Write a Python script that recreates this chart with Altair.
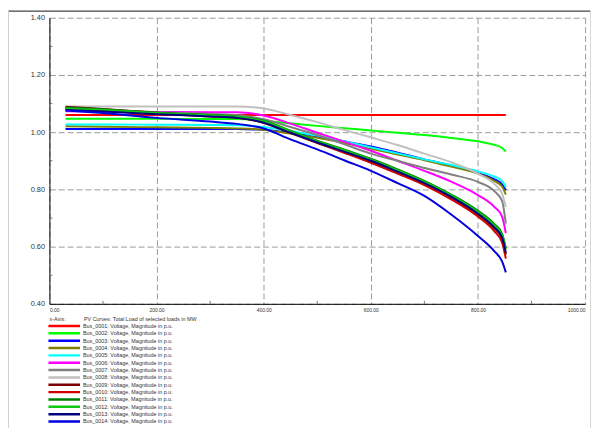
import altair as alt
import pandas as pd

loads = [30, 100, 200, 300, 350, 400, 450, 500, 550, 600, 650, 700, 750, 800, 830, 845, 852]

bus_names = [f"Bus_{i:04d}: Voltage, Magnitude in p.u." for i in range(1, 15)]
bus_colors = ["#ff0000", "#00ff00", "#0000ff", "#808000", "#00ffff", "#ff00ff", "#808080",
              "#c0c0c0", "#800000", "#d40000", "#008000", "#10c810", "#000080", "#0000e0"]

v01 = [1.060] * 17
v02 = [1.047, 1.047, 1.047, 1.046, 1.046, 1.040, 1.031, 1.022, 1.014, 1.006, 0.998, 0.990, 0.980, 0.968, 0.956, 0.945, 0.932]
v03 = [1.011, 1.011, 1.011, 1.011, 1.011, 1.008, 0.998, 0.985, 0.968, 0.950, 0.928, 0.905, 0.883, 0.857, 0.836, 0.818, 0.797]
v04 = [1.021, 1.019, 1.017, 1.015, 1.013, 1.008, 0.995, 0.980, 0.962, 0.942, 0.922, 0.902, 0.880, 0.855, 0.830, 0.810, 0.782]
v05 = [1.027, 1.027, 1.026, 1.025, 1.024, 1.018, 1.003, 0.988, 0.968, 0.947, 0.926, 0.905, 0.885, 0.863, 0.845, 0.830, 0.808]
v06 = [1.073, 1.072, 1.071, 1.070, 1.070, 1.058, 1.030, 0.998, 0.967, 0.935, 0.900, 0.865, 0.827, 0.780, 0.740, 0.705, 0.647]
v07 = [1.084, 1.078, 1.070, 1.064, 1.060, 1.045, 1.018, 0.990, 0.958, 0.925, 0.900, 0.875, 0.852, 0.826, 0.795, 0.760, 0.680]
v08 = [1.090, 1.090, 1.090, 1.090, 1.090, 1.083, 1.060, 1.035, 1.008, 0.982, 0.955, 0.925, 0.895, 0.855, 0.820, 0.785, 0.738]
v09 = [1.089, 1.081, 1.068, 1.058, 1.052, 1.035, 1.000, 0.965, 0.932, 0.898, 0.860, 0.820, 0.772, 0.712, 0.665, 0.630, 0.572]
v10 = [1.082, 1.076, 1.065, 1.055, 1.050, 1.032, 0.997, 0.962, 0.928, 0.893, 0.855, 0.815, 0.765, 0.705, 0.655, 0.615, 0.558]
v11 = [1.086, 1.080, 1.068, 1.060, 1.055, 1.040, 1.005, 0.970, 0.940, 0.907, 0.870, 0.830, 0.782, 0.725, 0.680, 0.645, 0.595]
v12 = [1.083, 1.078, 1.067, 1.059, 1.054, 1.038, 1.003, 0.968, 0.937, 0.904, 0.867, 0.827, 0.779, 0.721, 0.676, 0.640, 0.590]
v13 = [1.078, 1.072, 1.063, 1.055, 1.050, 1.033, 0.998, 0.964, 0.932, 0.900, 0.862, 0.822, 0.774, 0.715, 0.668, 0.632, 0.578]
v14 = [1.076, 1.067, 1.050, 1.037, 1.029, 1.013, 0.975, 0.940, 0.902, 0.865, 0.822, 0.777, 0.712, 0.637, 0.585, 0.548, 0.510]

series = [v01, v02, v03, v04, v05, v06, v07, v08, v09, v10, v11, v12, v13, v14]

x_ticks = [0, 200, 400, 600, 800, 1000]
y_ticks = [0.4, 0.6, 0.8, 1.0, 1.2, 1.4]
x_minor = [100, 300, 500, 700, 900]
y_minor = [0.5, 0.7, 0.9, 1.1, 1.3]

header_left = "x-Axis:"
header_right = "PV Curves: Total Load of selected loads in MW"

rows = []
for name, vals in zip(bus_names, series):
    for i, (x, v) in enumerate(zip(loads, vals)):
        rows.append({"load": x, "v": v, "bus": name, "order": i})
df = pd.DataFrame(rows)

leg_df = pd.DataFrame({"idx": list(range(1, 15)), "bus": bus_names})
head_df = pd.DataFrame({"idx": [0], "left": [header_left], "right": [header_right]})

FONT = "Liberation Sans"
TXT = "#333333"

xs = alt.Scale(domain=[0, 1000], nice=False)
ys = alt.Scale(domain=[0.4, 1.4], nice=False)
cs = alt.Scale(domain=bus_names, range=bus_colors)
ls = alt.Scale(type="point", domain=list(range(15)), range=[305, 409.3], padding=0)

lines = alt.Chart(df).mark_line(strokeWidth=2, interpolate="monotone").encode(
    x=alt.X("load:Q", scale=xs,
            axis=alt.Axis(values=x_ticks, format=".2f", labelFontSize=5, labelColor=TXT,
                          ticks=False, grid=True, gridDash=[6, 3], gridColor="#9a9a9a",
                          domainColor="#000000", labelPadding=4, title=None)),
    y=alt.Y("v:Q", scale=ys,
            axis=alt.Axis(values=y_ticks, format=".2f", labelFontSize=7.5, labelColor=TXT,
                          ticks=False, grid=True, gridDash=[6, 3], gridColor="#9a9a9a",
                          domainColor="#000000", labelPadding=5, title=None)),
    color=alt.Color("bus:N", scale=cs, legend=None),
    order="order:Q",
)

xminor_df = pd.DataFrame({"x": x_minor})
yminor_df = pd.DataFrame({"y": y_minor})

xmin = alt.Chart(xminor_df).mark_rule(color="#555555", strokeWidth=0.8).encode(
    x=alt.X("x:Q", scale=xs), y=alt.value(290), y2=alt.value(287))
ymin = alt.Chart(yminor_df).mark_rule(color="#555555", strokeWidth=0.8).encode(
    y=alt.Y("y:Q", scale=ys, axis=None), x=alt.value(0), x2=alt.value(3))

leg_lines = alt.Chart(leg_df).mark_rule(strokeWidth=2.5).encode(
    y=alt.Y("idx:O", scale=ls, axis=None),
    x=alt.value(-1), x2=alt.value(31),
    color=alt.Color("bus:N", scale=cs, legend=None),
)
leg_text = alt.Chart(leg_df).mark_text(align="left", baseline="middle", fontSize=5.5, color=TXT).encode(
    y=alt.Y("idx:O", scale=ls, axis=None),
    x=alt.value(34),
    text="bus:N",
)
head_left = alt.Chart(head_df).mark_text(align="left", baseline="middle", fontSize=5.5, color=TXT).encode(
    y=alt.Y("idx:O", scale=ls, axis=None), x=alt.value(0), text="left:N")
head_right = alt.Chart(head_df).mark_text(align="left", baseline="middle", fontSize=5.5, color=TXT).encode(
    y=alt.Y("idx:O", scale=ls, axis=None), x=alt.value(35), text="right:N")

frame_top = alt.Chart(xminor_df).mark_rule(color="#707070", strokeWidth=1).encode(
    x=alt.value(-42), x2=alt.value(548), y=alt.value(-6.5))
frame_left = alt.Chart(xminor_df).mark_rule(color="#d0d0d0", strokeWidth=1).encode(
    x=alt.value(-41.5), y=alt.value(-7), y2=alt.value(420))
frame_right = alt.Chart(xminor_df).mark_rule(color="#d8d8d8", strokeWidth=1).encode(
    x=alt.value(548.5), y=alt.value(-7), y2=alt.value(420))

chart = alt.layer(lines, xmin, ymin, leg_lines, leg_text, head_left, head_right,
                  frame_top, frame_left, frame_right).resolve_scale(y="independent").properties(
    width=543, height=290,
    autosize=alt.AutoSizeParams(type="none"),
    padding={"left": 42, "top": 7, "right": 7, "bottom": 123},
).configure(font=FONT).configure_view(stroke=None)

chart.save("out.html", embed_options={"renderer": "svg", "actions": False})
